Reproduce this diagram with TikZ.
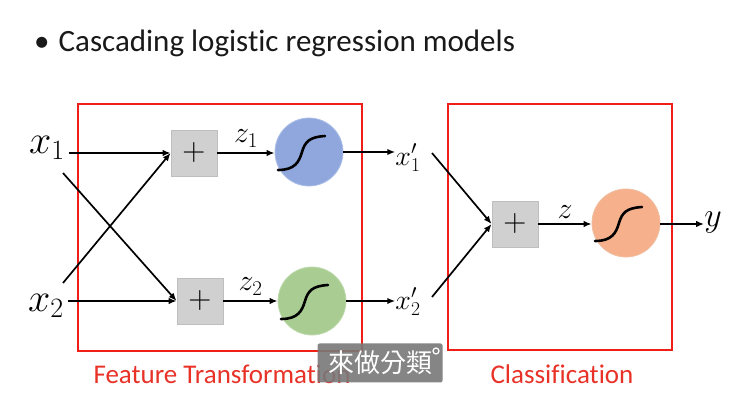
\RequirePackage{fix-cm}
\documentclass[tikz,border=0pt]{standalone}
\usepackage{fontspec}
\newfontfamily\slidefont[Ligatures=NoCommon]{Carlito}
\newfontfamily\cjk{Noto Sans CJK TC}
\usetikzlibrary{arrows.meta}

\definecolor{framered}{RGB}{240,30,20}
\definecolor{labelred}{RGB}{232,50,40}
\definecolor{boxgray}{RGB}{208,208,208}
\definecolor{boxedge}{RGB}{190,190,190}
\definecolor{nblue}{RGB}{143,167,220}
\definecolor{nblueedge}{RGB}{170,190,232}
\definecolor{ngreen}{RGB}{168,204,146}
\definecolor{ngreenedge}{RGB}{190,218,172}
\definecolor{norange}{RGB}{246,176,140}
\definecolor{norangeedge}{RGB}{240,190,160}
\definecolor{subgray}{RGB}{120,120,120}

\begin{document}
\begin{tikzpicture}[x=1pt,y=-1pt,
  sumbox/.style={draw=boxedge, line width=0.8pt, fill=boxgray, minimum size=46pt,
    inner sep=0pt, font=\fontsize{32}{32}\selectfont},
  neuron/.style={circle, minimum size=68pt, inner sep=0pt, line width=0.8pt},
  wire/.style={line width=1.7pt, -{Latex[length=8pt,width=6.5pt]}},
  frame/.style={draw=framered, line width=2.6pt},
  bigvar/.style={inner sep=0pt, font=\fontsize{40}{40}\selectfont},
  midvar/.style={inner sep=0pt, font=\fontsize{30}{30}\selectfont},
  smallvar/.style={inner sep=0pt, font=\fontsize{28}{28}\selectfont},
  caption/.style={text=labelred, font=\slidefont\fontsize{27}{27}\selectfont},
  sigmoid/.pic={\draw[line width=2.6pt, line cap=round]
    (-31,18) .. controls (-14,18) and (-10,10) .. (-7,0)
    .. controls (-4,-10) and (0,-15) .. (16,-16);}
]
\useasboundingbox (0,0) rectangle (740,406);
\fill[white] (0,0) rectangle (740,406);

% heading
\node[anchor=base west, inner sep=0pt, text={rgb,255:red,25;green,25;blue,25},
  font=\slidefont\fontsize{31}{31}\selectfont] (title) at (34,52)
  {\textbullet\hspace{9pt}Cascading logistic regression models};

% frames around the two stages
\draw[frame] (78,104) rectangle (362,351);
\draw[frame] (448,104) rectangle (672,350);
\node[caption] (ftlabel) at (222,374) {Feature Transformation};
\node[caption] (cllabel) at (562,374) {Classification};

% inputs
\node[bigvar] (x1) at (47,148) {$x_1$};
\node[bigvar] (x2) at (46,306) {$x_2$};
\coordinate (x1c) at (63,173);
\coordinate (x2c) at (63,283);

% first stage
\node[sumbox] (s1) at (194,153) {$+$};
\node[sumbox] (s2) at (200,301) {$+$};
\node[neuron, fill=nblue, draw=nblueedge] (n1) at (309,152) {};
\node[neuron, fill=ngreen, draw=ngreenedge] (n2) at (312,301) {};
\pic at (n1) {sigmoid};
\pic at (n2) {sigmoid};

\draw[wire] (x1.east |- s1.west) ++(4,0) -- (s1.west);
\draw[wire] (x2.east |- s2.west) ++(4,0) -- (s2.west);
\draw[wire] (x1c) -- (s2.west);
\draw[wire] (x2c) -- (s1.west);
\draw[wire] (s1.east) -- node[midvar, above=5pt] (z1) {$z_1$} (n1.west |- s1.east);
\draw[wire] (s2.east) -- node[midvar, above=5pt] (z2) {$z_2$} (n2.west |- s2.east);

% transformed features
\node[smallvar] (xp1) at (408,158) {$x_1'$};
\node[smallvar] (xp2) at (408,302) {$x_2'$};
\draw[wire] (n1.east) -- (xp1.west |- n1.east);
\draw[wire] (n2.east) -- (xp2.west |- n2.east);
\coordinate (xp1c) at (432,153);
\coordinate (xp2c) at (432,297);

% second stage
\node[sumbox] (s3) at (515,224) {$+$};
\node[neuron, fill=norange, draw=norangeedge] (n3) at (626,223) {};
\pic at (n3) {sigmoid};
\draw[wire] (xp1c) -- (s3.west);
\draw[wire] (xp2c) -- (s3.west);
\draw[wire] (s3.east) -- node[midvar, above=5pt] (z) {$z$} (n3.west |- s3.east);
\node[smallvar, font=\fontsize{34}{34}\selectfont] (y) at (713,222) {$y$};
\draw[wire] (n3.east |- s3.east) -- (y.west |- s3.east);

% subtitle overlay
\node[fill=subgray, fill opacity=0.9, text opacity=1, text=white, rounded corners=2pt,
  minimum width=125pt, minimum height=39pt, inner sep=0pt,
  font=\cjk\fontsize{26}{26}\selectfont] (sub) at (380,363) {來做分類\hspace{10pt}};
\node[circle, draw=white, line width=1.2pt, minimum size=6pt, inner sep=0pt,
  fill=none] (subdot) at (436,351) {};
\end{tikzpicture}
\end{document}
